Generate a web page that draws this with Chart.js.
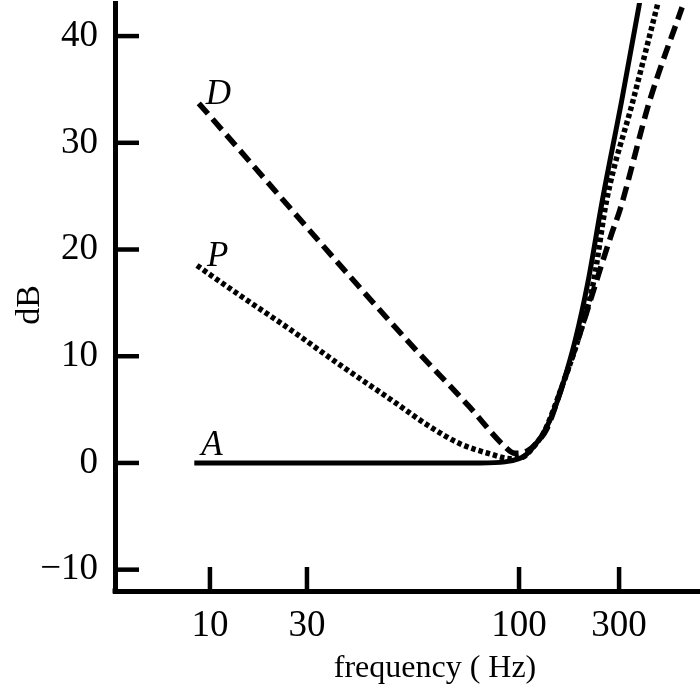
<!DOCTYPE html>
<html><head><meta charset="utf-8">
<script src="https://cdn.jsdelivr.net/npm/chart.js@4.4.1/dist/chart.umd.min.js"></script>
<style>html,body{margin:0;padding:0;background:#fff;}#wrap{width:700px;height:699px;position:relative;}</style>
</head><body><div id="wrap"><canvas id="c"></canvas></div>
<script>
// Tick values / labels
const xTickValues = [10, 20.6, 100, 210.7];
const xTickLabels = ['10', '30', '100', '300'];
const yTickValues = [-10, 0, 10, 20, 30, 40];

// Series A (solid)
const freqA = [8.9, 30, 75, 90, 100, 104.6, 112, 121, 130, 139, 152, 167, 186, 215, 244, 247];
const dbA   = [0,   0,  0,  0.1, 0.4, 0.7,  1.6, 3.0, 5.0, 7.5, 11.5, 16.9, 24.6, 34.0, 42.7, 43.6];

// Series P (dotted)
const freqP = [9.08, 12.5, 18.2, 26.3, 38.2, 51.5, 64.4, 80.6, 93.5, 102, 112, 121, 139, 155, 174, 192, 234, 282];
const dbP   = [18.5, 15.7, 12.5, 9.2,  6.0,  3.4,  1.8,  0.85, 0.4, 0.5, 1.6, 3.0, 7.5, 11.5, 16.9, 24.6, 34.0, 43.2];

// Series D (dashed)
const freqD = [9.2, 43.4, 69.4, 88.8, 97, 106, 115, 123, 139, 155, 170, 186, 200, 212, 265, 337];
const dbD   = [33.7, 11.5, 5.2, 1.7, 0.9, 1.1, 2.0, 3.2, 7.5, 11.5, 15.2, 18.8, 21.6, 23.7, 34.0, 42.7];

const curveNames = ['A', 'P', 'D'];

const toPts = (xs, ys) => xs.map((x, i) => ({x: x, y: ys[i]}));
const FONT = "'Liberation Serif', 'Times New Roman', serif";

const overlay = {
  id: 'overlay',
  afterDraw(chart) {
    const ctx = chart.ctx, xs = chart.scales.x, ys = chart.scales.y, ca = chart.chartArea;
    ctx.save();
    ctx.strokeStyle = '#000'; ctx.fillStyle = '#000';
    // inward tick marks
    ctx.lineWidth = 4.5; ctx.lineCap = 'butt';
    xs.ticks.forEach(t => {
      const px = xs.getPixelForValue(t.value);
      ctx.beginPath(); ctx.moveTo(px, ca.bottom); ctx.lineTo(px, ca.bottom - 24); ctx.stroke();
    });
    ys.ticks.forEach(t => {
      const py = ys.getPixelForValue(t.value);
      ctx.beginPath(); ctx.moveTo(ca.left, py); ctx.lineTo(ca.left + 24, py); ctx.stroke();
    });
    // corner square
    ctx.fillRect(ca.left - 2.5, ca.bottom - 2.5, 5, 5);
    // axis titles
    ctx.font = "32px " + FONT;
    ctx.textAlign = 'center'; ctx.textBaseline = 'alphabetic';
    ctx.fillText('frequency ( Hz)', 435, 677);
    ctx.save();
    ctx.font = "34px " + FONT;
    ctx.translate(39, 305); ctx.rotate(-Math.PI / 2);
    ctx.fillText('dB', 0, 0);
    ctx.restore();
    // curve labels, anchored at each curve's first point
    ctx.font = "italic 35px " + FONT;
    ctx.textAlign = 'left';
    const offs = {A: [7, -8], P: [10, 0], D: [7, 1]};
    chart.data.datasets.forEach(ds => {
      const p = ds.data[0];
      const o = offs[ds.label];
      ctx.fillText(ds.label, xs.getPixelForValue(p.x) + o[0], ys.getPixelForValue(p.y) + o[1]);
    });
    ctx.restore();
  }
};

new Chart(document.getElementById('c'), {
  type: 'line',
  data: {
    datasets: [
      {label: curveNames[0], data: toPts(freqA, dbA), borderColor: '#000', borderWidth: 5, pointRadius: 0, cubicInterpolationMode: 'monotone', fill: false},
      {label: curveNames[1], data: toPts(freqP, dbP), borderColor: '#000', borderWidth: 5.5, borderDash: [4.5, 3], pointRadius: 0, cubicInterpolationMode: 'monotone', fill: false},
      {label: curveNames[2], data: toPts(freqD, dbD), borderColor: '#000', borderWidth: 5.5, borderDash: [14, 7], pointRadius: 0, cubicInterpolationMode: 'monotone', fill: false}
    ]
  },
  options: {
    animation: false,
    responsive: true,
    maintainAspectRatio: false,
    layout: {padding: {top: 3, left: 0, right: 0, bottom: 0}},
    plugins: {legend: {display: false}, tooltip: {enabled: false}},
    scales: {
      x: {
        type: 'logarithmic', min: 4.93, max: 385,
        afterBuildTicks(s) { s.ticks = xTickValues.map(v => ({value: v})); },
        afterFit(s) { s.height = 108; s.paddingLeft = 0; s.paddingRight = 0; },
        ticks: {autoSkip: false, maxRotation: 0, minRotation: 0, padding: 13, color: '#000',
          font: {family: FONT, size: 37},
          callback: (v, i) => xTickLabels[i]},
        grid: {display: false, drawTicks: false},
        border: {display: true, width: 5, color: '#000'}
      },
      y: {
        type: 'linear', min: -12, max: 43.1,
        afterBuildTicks(s) { s.ticks = yTickValues.map(v => ({value: v})); },
        afterFit(s) { s.width = 115; s.paddingTop = 0; s.paddingBottom = 0; },
        ticks: {autoSkip: false, padding: 17, color: '#000',
          font: {family: FONT, size: 37},
          callback: v => v < 0 ? '\u2212' + Math.abs(v) : String(v)},
        grid: {display: false, drawTicks: false},
        border: {display: true, width: 5, color: '#000'}
      }
    }
  },
  plugins: [overlay]
});
</script></body></html>
